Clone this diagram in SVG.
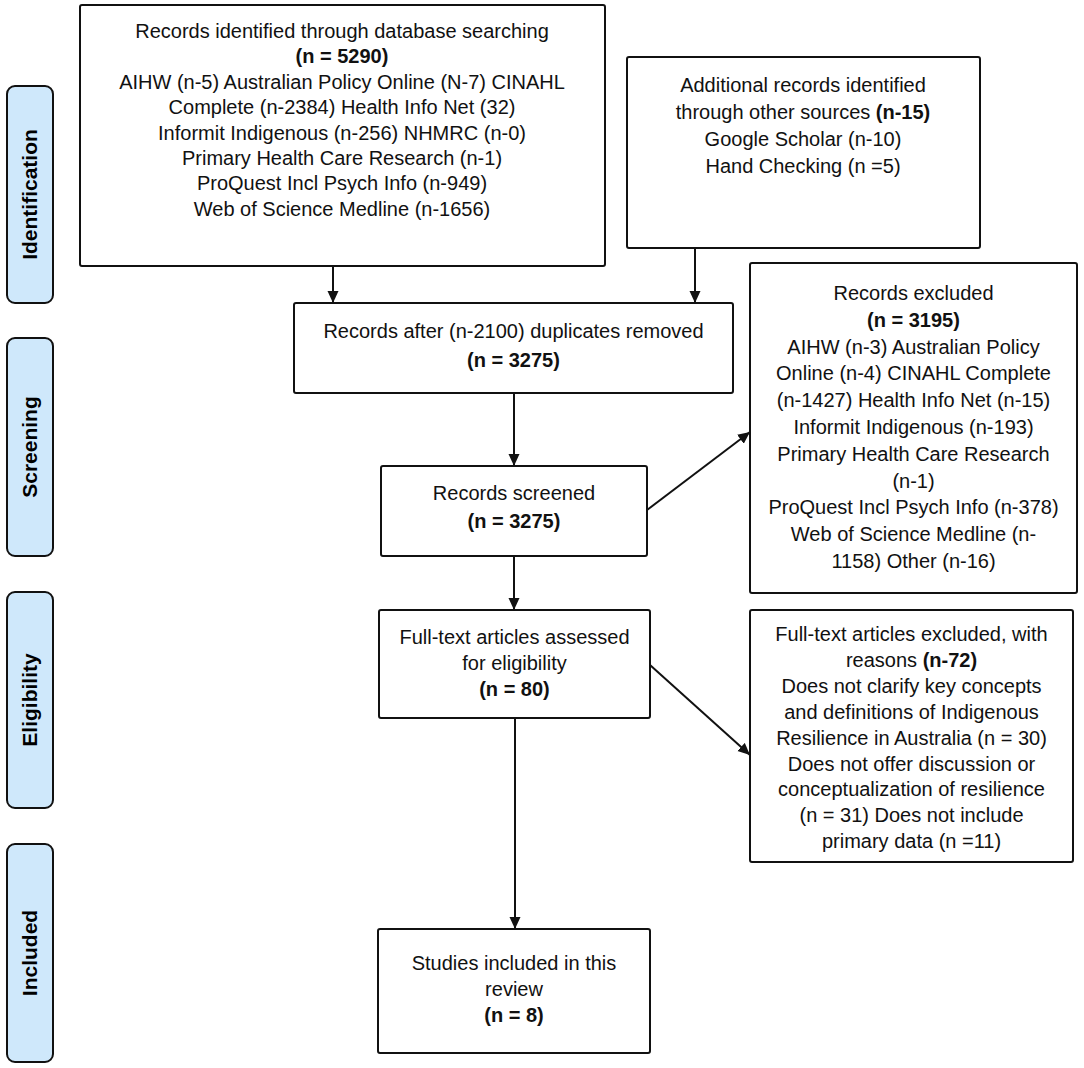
<svg xmlns="http://www.w3.org/2000/svg" width="1084" height="1068" viewBox="0 0 1084 1068">
<style>
.box{fill:#fff;stroke:#111;stroke-width:2}
.side{fill:#cfe8fb;stroke:#111;stroke-width:2}
.t{font-family:"Liberation Sans",Arial,sans-serif;font-size:20px;fill:#111;text-anchor:middle}
.b{font-weight:bold}
.s{font-family:"Liberation Sans",Arial,sans-serif;font-size:21px;font-weight:bold;fill:#000;text-anchor:middle}
.c{fill:none;stroke:#111;stroke-width:2;marker-end:url(#ah)}
</style>
<defs>
<marker id="ah" markerUnits="userSpaceOnUse" markerWidth="12" markerHeight="12" refX="12" refY="6" orient="auto">
<path d="M0,0.5 L12,6 L0,11.5 z" fill="#111"/>
</marker>
</defs>
<rect width="1084" height="1068" fill="#fff"/>

<g id="side-identification"><rect class="side" x="7" y="86" width="46" height="217" rx="8"/><text class="s" transform="translate(37,194.5) rotate(-90)">Identification</text></g>
<g id="side-screening"><rect class="side" x="7" y="338" width="46" height="218" rx="8"/><text class="s" transform="translate(37,447) rotate(-90)">Screening</text></g>
<g id="side-eligibility"><rect class="side" x="7" y="592" width="46" height="216" rx="8"/><text class="s" transform="translate(37,700) rotate(-90)">Eligibility</text></g>
<g id="side-included"><rect class="side" x="7" y="844" width="46" height="218" rx="8"/><text class="s" transform="translate(37,953) rotate(-90)">Included</text></g>

<g id="node-database">
<rect class="box" x="80" y="5" width="525" height="261" rx="2"/>
<text class="t" x="342" y="38">Records identified through database searching</text>
<text class="t b" x="342" y="63.4">(n = 5290)</text>
<text class="t" x="342" y="88.8">AIHW (n-5) Australian Policy Online (N-7) CINAHL</text>
<text class="t" x="342" y="114.2">Complete (n-2384) Health Info Net (32)</text>
<text class="t" x="342" y="139.6">Informit Indigenous (n-256) NHMRC (n-0)</text>
<text class="t" x="342" y="165">Primary Health Care Research (n-1)</text>
<text class="t" x="342" y="190.4">ProQuest Incl Psych Info (n-949)</text>
<text class="t" x="342" y="215.8">Web of Science Medline (n-1656)</text>
</g>

<g id="node-other">
<rect class="box" x="627" y="57" width="353" height="191" rx="2"/>
<text class="t" x="803" y="92">Additional records identified</text>
<text class="t" x="803" y="119">through other sources <tspan class="b">(n-15)</tspan></text>
<text class="t" x="803" y="146">Google Scholar (n-10)</text>
<text class="t" x="803" y="173">Hand Checking (n =5)</text>
</g>

<g id="node-duplicates">
<rect class="box" x="294" y="303" width="439" height="90" rx="2"/>
<text class="t" x="513.5" y="338">Records after (n-2100) duplicates removed</text>
<text class="t b" x="513.5" y="367">(n = 3275)</text>
</g>

<g id="node-screened">
<rect class="box" x="381" y="466" width="266" height="90" rx="2"/>
<text class="t" x="514" y="500">Records screened</text>
<text class="t b" x="514" y="528">(n = 3275)</text>
</g>

<g id="node-excluded">
<rect class="box" x="750" y="263" width="327" height="330" rx="2"/>
<text class="t" x="913.5" y="300">Records excluded</text>
<text class="t b" x="913.5" y="327">(n = 3195)</text>
<text class="t" x="913.5" y="354">AIHW (n-3) Australian Policy</text>
<text class="t" x="913.5" y="380">Online (n-4) CINAHL Complete</text>
<text class="t" x="913.5" y="407">(n-1427) Health Info Net (n-15)</text>
<text class="t" x="913.5" y="434">Informit Indigenous (n-193)</text>
<text class="t" x="913.5" y="461">Primary Health Care Research</text>
<text class="t" x="913.5" y="488">(n-1)</text>
<text class="t" x="913.5" y="514">ProQuest Incl Psych Info (n-378)</text>
<text class="t" x="913.5" y="541">Web of Science Medline (n-</text>
<text class="t" x="913.5" y="568">1158) Other (n-16)</text>
</g>

<g id="node-fulltext">
<rect class="box" x="379" y="610" width="271" height="108" rx="2"/>
<text class="t" x="514.5" y="644">Full-text articles assessed</text>
<text class="t" x="514.5" y="670">for eligibility</text>
<text class="t b" x="514.5" y="696">(n = 80)</text>
</g>

<g id="node-fulltext-excluded">
<rect class="box" x="750" y="610" width="323" height="252" rx="2"/>
<text class="t" x="911.5" y="641">Full-text articles excluded, with</text>
<text class="t" x="911.5" y="667">reasons <tspan class="b">(n-72)</tspan></text>
<text class="t" x="911.5" y="693">Does not clarify key concepts</text>
<text class="t" x="911.5" y="719">and definitions of Indigenous</text>
<text class="t" x="911.5" y="745">Resilience in Australia (n = 30)</text>
<text class="t" x="911.5" y="771">Does not offer discussion or</text>
<text class="t" x="911.5" y="796">conceptualization of resilience</text>
<text class="t" x="911.5" y="822">(n = 31) Does not include</text>
<text class="t" x="911.5" y="848">primary data (n =11)</text>
</g>

<g id="node-included">
<rect class="box" x="378" y="929" width="272" height="124" rx="2"/>
<text class="t" x="514" y="970">Studies included in this</text>
<text class="t" x="514" y="996">review</text>
<text class="t b" x="514" y="1022">(n = 8)</text>
</g>

<g id="connectors">
<line class="c" x1="333" y1="266" x2="333" y2="303"/>
<line class="c" x1="695" y1="248" x2="695" y2="303"/>
<line class="c" x1="514" y1="393" x2="514" y2="466"/>
<line class="c" x1="514" y1="556" x2="514" y2="610"/>
<line class="c" x1="647" y1="510" x2="750" y2="432"/>
<line class="c" x1="650" y1="665" x2="750" y2="755"/>
<line class="c" x1="515" y1="718" x2="515" y2="929"/>
</g>
</svg>
